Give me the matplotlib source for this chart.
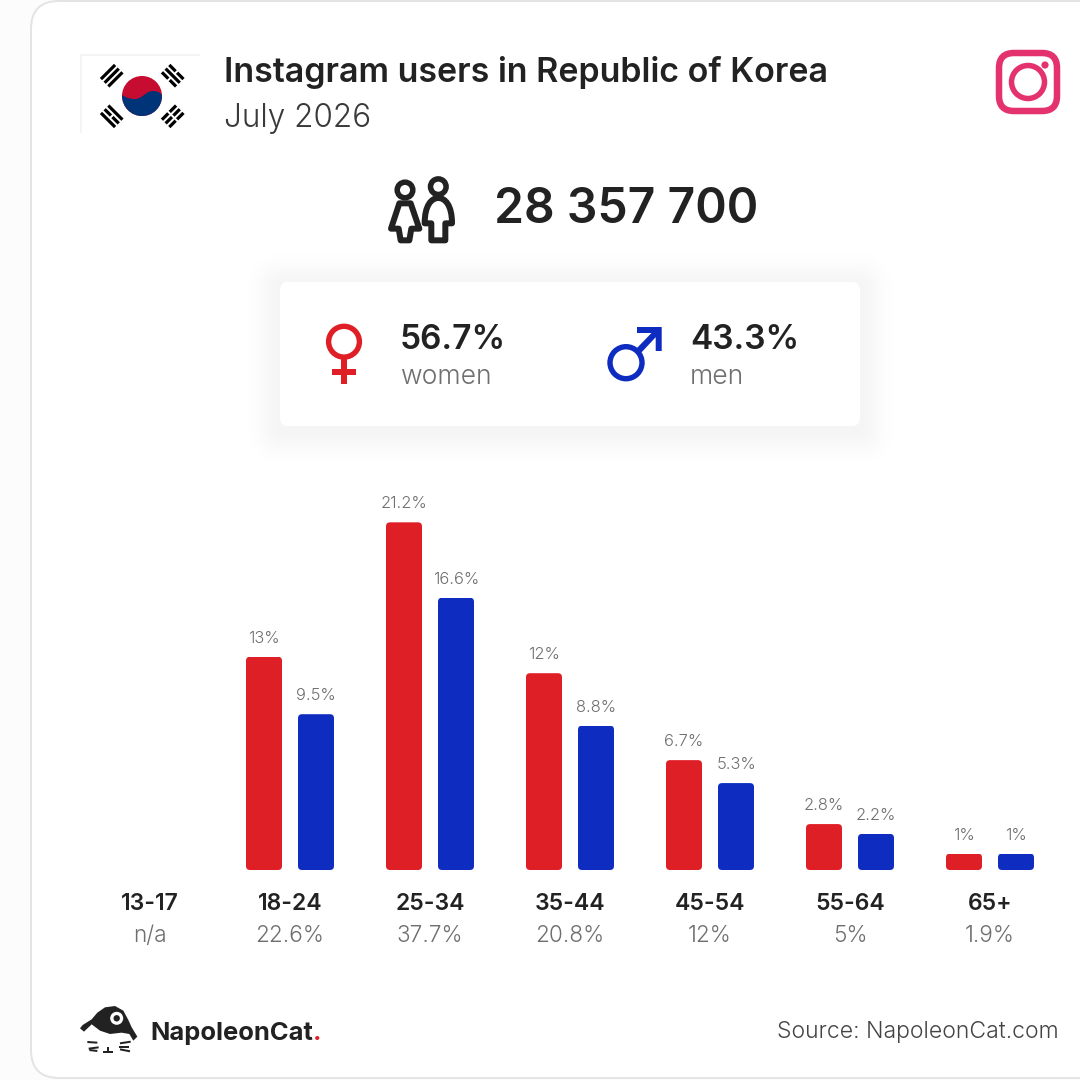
import numpy as np
import matplotlib
matplotlib.use("Agg")
from matplotlib import pyplot as plt
from matplotlib.patches import Circle, FancyBboxPatch, PathPatch, Polygon, Rectangle
from matplotlib.path import Path

ages = ["13-17", "18-24", "25-34", "35-44", "45-54", "55-64", "65+"]
totals = ["n/a", "22.6%", "37.7%", "20.8%", "12%", "5%", "1.9%"]
women = [None, 13, 21.2, 12, 6.7, 2.8, 1]
men = [None, 9.5, 16.6, 8.8, 5.3, 2.2, 1]
women_share = "56.7%"
men_share = "43.3%"
users = "28 357 700"

RED = "#df1f26"
BLUE = "#0f2cc0"
DARK = "#222222"
GREY = "#6f6f6f"
PINK = "#e4326f"
PX = 0.72  # one pixel in points at dpi 100

plt.rcParams["font.family"] = ["Inter", "Lato", "DejaVu Sans"]

fig = plt.figure(figsize=(10.8, 10.8), dpi=100, facecolor="#fcfcfc")

# overlay in pixel coordinates for the card and the icons
bg = fig.add_axes([0, 0, 1, 1])
bg.set_xlim(0, 1080)
bg.set_ylim(1080, 0)
bg.axis("off")


def round_box(x0, y0, x1, y1, r, **kw):
    box = FancyBboxPatch((x0, y0), x1 - x0, y1 - y0,
                         boxstyle=f"round,pad=0,rounding_size={r}", **kw)
    bg.add_patch(box)
    return box


def line(points, color, width, **kw):
    xs, ys = zip(*points)
    bg.plot(xs, ys, color=color, lw=width * PX, solid_capstyle=kw.pop("cap", "butt"),
            solid_joinstyle=kw.pop("join", "miter"), **kw)


round_box(31, 1, 1130, 1078, 28, fc="white", ec="#e4e4e4", lw=2 * PX)

# soft shadow round the gender box
yy, xx = np.mgrid[230:480, 230:910]
dx = np.maximum(np.maximum(280 - xx, xx - 860), 0)
dy = np.maximum(np.maximum(282 + 4 - yy, yy - 426 - 4), 0)
dist = np.hypot(dx, dy)
shadow = np.zeros(xx.shape + (4,))
shadow[..., 3] = 0.04 * np.exp(-(dist / 22) ** 2)
bg.imshow(shadow, extent=(230, 910, 480, 230), interpolation="bilinear", zorder=1.5)
bg.set_xlim(0, 1080)
bg.set_ylim(1080, 0)
bg.set_aspect("auto")
round_box(280, 282, 860, 426, 8, fc="white", ec="none", zorder=2)

# flag
line([(81, 133), (81, 55), (200, 55)], "#f4f4f4", 2)
bg.add_patch(Circle((142, 96), 20, fc="#c60c30", ec="none"))
taeguk = Path([(122, 95),
               (122, 107), (131, 116), (142, 116),
               (153, 116), (162, 107), (162, 96),
               (161, 92), (155, 90), (150, 91.5),
               (145, 93), (141, 99), (135, 99),
               (129, 99), (125, 97), (122, 95)],
              [Path.MOVETO] + [Path.CURVE4] * 15)
bg.add_patch(PathPatch(taeguk, fc="#003478", ec="none"))
root = np.sqrt(0.5)
for cx, cy, ux, broken in [(111.7, 75.7, 1, (0, 0, 0)), (172.7, 75.7, -1, (1, 0, 1)),
                           (111.7, 116.3, -1, (0, 1, 0)), (172.7, 116.3, 1, (1, 1, 1))]:
    # bars lie across the diagonal that runs to the flag centre
    bar_dir = np.array([ux * root, -root])
    normal = np.array([root, ux * root])
    for k, b in zip((-1, 0, 1), broken):
        mid = np.array([cx, cy]) + k * 5.2 * normal
        half = 10
        if b:
            line([mid - half * bar_dir, mid - 1 * bar_dir], "black", 3.2)
            line([mid + 1 * bar_dir, mid + half * bar_dir], "black", 3.2)
        else:
            line([mid - half * bar_dir, mid + half * bar_dir], "black", 3.2)

# instagram icon
round_box(999, 53, 1057, 111, 15, fc="none", ec=PINK, lw=6.5 * PX)
bg.add_patch(Circle((1028, 82), 16.5, fc="none", ec=PINK, lw=5.5 * PX))
bg.add_patch(Circle((1045, 65), 3.6, fc=PINK, ec="none"))

# titles
bg.text(224, 82, "Instagram users in Republic of Korea", fontsize=34 * PX, fontweight=600,
        color=DARK, va="baseline")
bg.text(224, 127, "July 2026", fontsize=31.5 * PX, fontweight=300, color="#3a3a3a", va="baseline")
bg.text(494, 223, users, fontsize=48 * PX, fontweight=600, color=DARK, va="baseline")

# people icon
ox, oy = 370, 160


def z(points):
    return [(ox + a / 3, oy + b / 3) for a, b in points]


bg.add_patch(Circle((405, 190), 7.8, fc="none", ec=DARK, lw=5.5 * PX))
bg.add_patch(Circle((438.3, 186.7), 7.8, fc="none", ec=DARK, lw=5.5 * PX))
woman = z([(88, 130), (122, 130), (148, 206), (124, 206), (118, 241), (92, 241), (86, 206), (63, 206)])
bg.add_patch(Polygon(woman, closed=True, fc="none", ec=DARK, lw=6 * PX, joinstyle="round"))
man = Path(z([(164, 190), (164, 135), (185, 114), (205, 114), (225, 114), (246, 135), (246, 190),
              (226, 190), (226, 241), (184, 241), (184, 190), (164, 190)]),
           [Path.MOVETO, Path.CURVE4, Path.CURVE4, Path.CURVE4, Path.CURVE4, Path.CURVE4, Path.CURVE4,
            Path.LINETO, Path.LINETO, Path.LINETO, Path.LINETO, Path.CLOSEPOLY])
bg.add_patch(PathPatch(man, fc="none", ec=DARK, lw=6 * PX, joinstyle="round"))

# gender box
bg.add_patch(Circle((344, 341.7), 15.4, fc="white", ec=RED, lw=5.4 * PX, zorder=3))
bg.add_patch(Rectangle((341, 358), 6, 26, fc=RED, ec="none", zorder=3))
bg.add_patch(Rectangle((332, 369), 24, 6, fc=RED, ec="none", zorder=3))
bg.add_patch(Circle((626, 362.7), 16, fc="white", ec=BLUE, lw=5.4 * PX, zorder=3))
bg.add_patch(Polygon([(637, 327), (661.7, 327), (661.7, 351), (655.7, 351), (655.7, 337.2),
                      (640, 354), (635.5, 349.5), (651.5, 333), (637, 333)],
                     closed=True, fc=BLUE, ec="none", zorder=3))
for x, share, name in [(400, women_share, "women"), (690, men_share, "men")]:
    bg.text(x, 349, share, fontsize=33.5 * PX, fontweight=600, color=DARK, va="baseline", zorder=3)
    bg.text(x, 384, name, fontsize=26.5 * PX, fontweight=300, color=GREY, va="baseline", zorder=3)


# footer
def logo_pts(points):
    return [(60 + a / 3, 990 + b / 3) for a, b in points]


bg.add_patch(Polygon(logo_pts([(60, 115), (68, 105), (95, 88), (112, 68), (135, 52), (165, 48), (190, 62),
                               (205, 90), (215, 112), (232, 140), (220, 152), (208, 132), (185, 128),
                               (150, 132), (120, 122), (95, 103), (72, 125)]),
                     closed=True, fc=DARK, ec="none"))
bg.add_patch(Circle((116.7, 1018.3), 6.5, fc="white", ec="none"))
bg.add_patch(Circle((116.7, 1018.3), 3.2, fc=DARK, ec="none"))
for seg in [[(82, 156), (112, 158)], [(86, 176), (116, 172)], [(88, 180), (112, 183)],
            [(180, 160), (212, 155)], [(178, 172), (208, 172)], [(180, 178), (210, 184)],
            [(130, 187), (160, 187)], [(145, 172), (145, 187)]]:
    line(logo_pts(seg), DARK, 2)
word = bg.text(150, 1040, "NapoleonCat", fontsize=25.5 * PX, fontweight="bold", color=DARK, va="baseline")
bg.annotate(".", xy=(1, 0), xycoords=word, fontsize=25.5 * PX, fontweight="bold", color=RED, va="bottom")
bg.text(1059, 1038, "Source: NapoleonCat.com", fontsize=23 * PX, fontweight=300, color="#444444",
        ha="right", va="baseline")

# bars
PER_UNIT = 16.4
ax = fig.add_axes([80 / 1080, (1080 - 870) / 1080, 980 / 1080, 24 * PER_UNIT / 1080])
ax.patch.set_alpha(0)
ax.set_xlim(-0.5, 6.5)
ax.set_ylim(0, 24)
for side in ax.spines.values():
    side.set_visible(False)
ax.set_yticks([])
ax.set_xticks(range(len(ages)))
ax.set_xticklabels(ages, fontsize=23 * PX, fontweight=600, color=DARK)
ax.tick_params(axis="x", length=0, pad=23 * PX)

offset = 26 / 140
bar_w = 36 / 140
for values, shift, color in [(women, -offset, RED), (men, offset, BLUE)]:
    for i, v in enumerate(values):
        if v is None:
            continue
        bar = ax.bar(i + shift, v, bar_w, color=color)[0]
        rounded = FancyBboxPatch((i + shift - bar_w / 2, 0), bar_w, v,
                                 boxstyle=f"round,pad=0,rounding_size={4 / 140}",
                                 mutation_aspect=140 / PER_UNIT, transform=ax.transData)
        bar.set_clip_path(rounded)
        ax.annotate(f"{v:g}%", (i + shift, v), xytext=(0, 11 * PX), textcoords="offset points",
                    ha="center", va="bottom", fontsize=16.5 * PX, fontweight=300, color=GREY)

for i, t in enumerate(totals):
    ax.annotate(t, (i, 0), xytext=(0, -72 * PX), textcoords="offset points", ha="center",
                va="baseline", fontsize=22.6 * PX, fontweight=300, color=GREY)

fig.savefig("out.png", dpi=100, facecolor=fig.get_facecolor())
